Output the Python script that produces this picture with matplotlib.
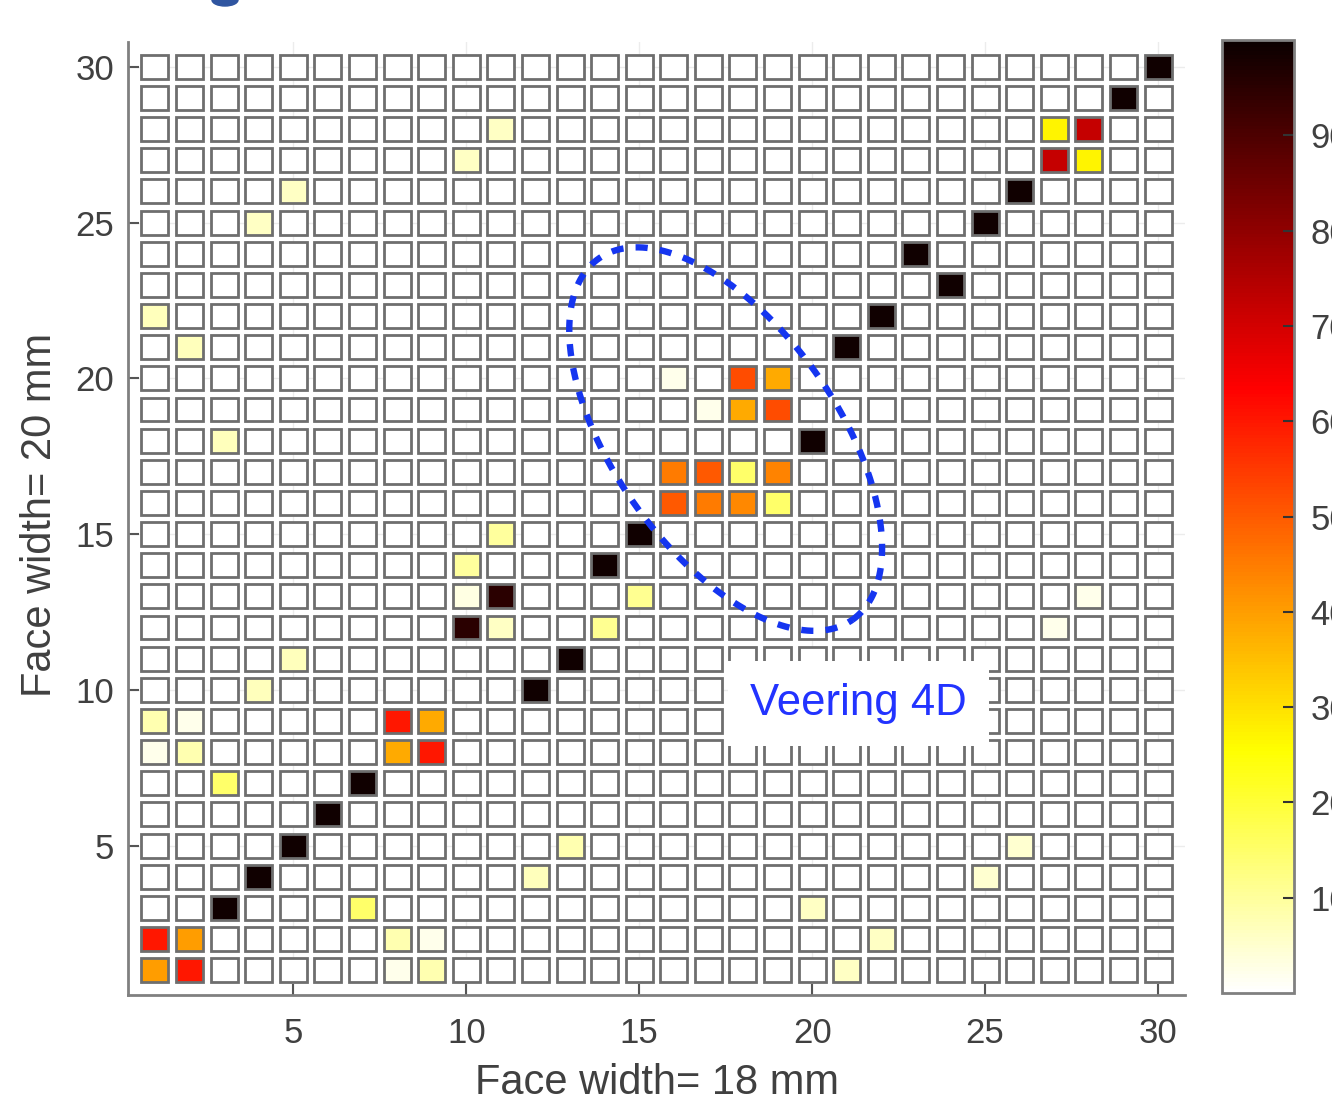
import numpy as np
import matplotlib
matplotlib.use('Agg')
import matplotlib.pyplot as plt
from matplotlib.patches import Rectangle, Ellipse
from matplotlib.colors import Normalize

plt.rcParams['font.family'] = ['Liberation Sans', 'DejaVu Sans']

# MAC matrix, 30 x 30 modes; only non-zero cells listed (x mode, y mode, MAC %)
n_modes = 30
strong_x = [3, 4, 5, 6, 7, 12, 13, 10, 11, 14, 15, 20, 21, 22, 24, 23, 25, 26, 29, 30]
strong_y = [3, 4, 5, 6, 7, 10, 11, 12, 13, 14, 15, 18, 21, 22, 23, 24, 25, 26, 29, 30]
strong_v = [99, 99, 99, 99, 99, 99, 99, 95, 95, 99, 99, 99, 99, 99, 99, 99, 99, 99, 99, 99]

pair_x = [1, 2, 1, 2, 8, 9, 8, 9, 27, 28, 27, 28]
pair_y = [1, 1, 2, 2, 8, 8, 9, 9, 27, 27, 28, 28]
pair_v = [40, 60, 60, 40, 38, 60, 60, 38, 72, 27, 27, 72]

veer_x = [16, 17, 18, 19, 16, 17, 18, 19, 17, 18, 19, 16, 18, 19]
veer_y = [16, 16, 16, 16, 17, 17, 17, 17, 19, 19, 19, 20, 20, 20]
veer_v = [50, 45, 43, 15, 45, 50, 15, 44, 2, 38, 52, 2, 52, 38]

weak_x = [1, 2, 1, 2, 8, 9, 8, 9, 3, 7, 4, 5, 12, 13, 20, 22, 21, 25, 26, 27, 28,
          1, 2, 3, 4, 5, 10, 11, 10, 10, 11, 11, 14, 15]
weak_y = [8, 8, 9, 9, 1, 1, 2, 2, 7, 3, 10, 11, 4, 5, 3, 2, 1, 4, 5, 12, 13,
          22, 21, 18, 25, 26, 27, 28, 13, 14, 15, 12, 12, 13]
weak_v = [2, 8, 8, 2, 2, 8, 8, 2, 15, 15, 7, 7, 7, 8, 6, 6, 6, 5, 5, 2, 2,
          7, 7, 7, 6, 6, 6, 6, 3, 10, 10, 6, 11, 11]

x_ticks = [5, 10, 15, 20, 25, 30]
y_ticks = [5, 10, 15, 20, 25, 30]
cbar_ticks = [10, 20, 30, 40, 50, 60, 70, 80, 90]

mac = np.zeros((n_modes, n_modes))
for xs, ys, vs in [(strong_x, strong_y, strong_v), (pair_x, pair_y, pair_v),
                   (veer_x, veer_y, veer_v), (weak_x, weak_y, weak_v)]:
    for x, y, v in zip(xs, ys, vs):
        mac[y - 1, x - 1] = v

tick_col = '#404040'
cmap = plt.get_cmap('hot_r')
norm = Normalize(vmin=0, vmax=100)

fig = plt.figure(figsize=(13.32, 11.03), dpi=100)
ax = fig.add_axes([128 / 1332, 108 / 1103, 1057 / 1332, 953 / 1103])

ax.set_xlim(0.22, 30.78)
ax.set_ylim(0.2, 30.8)
ax.grid(True, color='#ececec', lw=1, zorder=0)
ax.set_axisbelow(True)

w, h = 0.78, 0.77
for j in range(n_modes):
    for i in range(n_modes):
        ax.add_patch(Rectangle((i + 1 - w / 2, j + 1 - h / 2), w, h,
                               facecolor=cmap(norm(mac[j, i])),
                               edgecolor='#6e6e6e', lw=2.0, zorder=2))

# dashed ellipse around the veering region, built in pixel-like units
sx, sy = 34.6, 31.2
cx, cy = 17.5, 18.05
a_px, b_px, phi = 221, 112, np.deg2rad(-55)
t = np.linspace(0, 2 * np.pi, 400)
ex = a_px * np.cos(t) * np.cos(phi) - b_px * np.sin(t) * np.sin(phi)
ey = a_px * np.cos(t) * np.sin(phi) + b_px * np.sin(t) * np.cos(phi)
ax.plot(cx + ex / sx, cy + ey / sy, color='#1535f0', lw=4.6,
        linestyle=(0, (1.9, 1.9)), dash_capstyle='butt', zorder=4)

ax.text(18.2, 9.55, 'Veering 4D', color='#2233ff', fontsize=31.5,
        ha='left', va='center', zorder=6,
        bbox=dict(facecolor='white', edgecolor='none',
                  boxstyle='square,pad=0.5'))

for s in ['top', 'right']:
    ax.spines[s].set_visible(False)
for s in ['left', 'bottom']:
    ax.spines[s].set_color('#808080')
    ax.spines[s].set_linewidth(2)

ax.set_xticks(x_ticks)
ax.set_yticks(y_ticks)
ax.tick_params(axis='x', direction='in', length=8, width=1.5, color='#555555',
               labelsize=25, labelcolor=tick_col, pad=16)
ax.tick_params(axis='y', direction='in', length=8, width=1.5, color='#555555',
               labelsize=25, labelcolor=tick_col, pad=10)

fig.text(657 / 1332, 1 - 1083 / 1103, 'Face width= 18 mm', fontsize=30,
         color=tick_col, ha='center', va='center')
fig.text(40 / 1332, 1 - 515 / 1103, 'Face width= 20 mm', fontsize=30,
         color=tick_col, ha='center', va='center', rotation=90)

# colorbar
cax = fig.add_axes([1222 / 1332, 110 / 1103, 72 / 1332, 953 / 1103])
sm = plt.cm.ScalarMappable(norm=norm, cmap=cmap)
cb = fig.colorbar(sm, cax=cax, ticks=cbar_ticks)
cb.outline.set_edgecolor('#808080')
cb.outline.set_linewidth(2)
cax.tick_params(direction='in', length=8, width=1.5, color='#333333',
                labelsize=25, labelcolor=tick_col, pad=12)

# descender of the cropped title above the chart
fig.add_artist(Ellipse((225 / 1332, 1.0), 26 / 1332, 12 / 1103,
                       color='#2f55a0', transform=fig.transFigure))

fig.savefig('out.png', dpi=100, facecolor='white')
